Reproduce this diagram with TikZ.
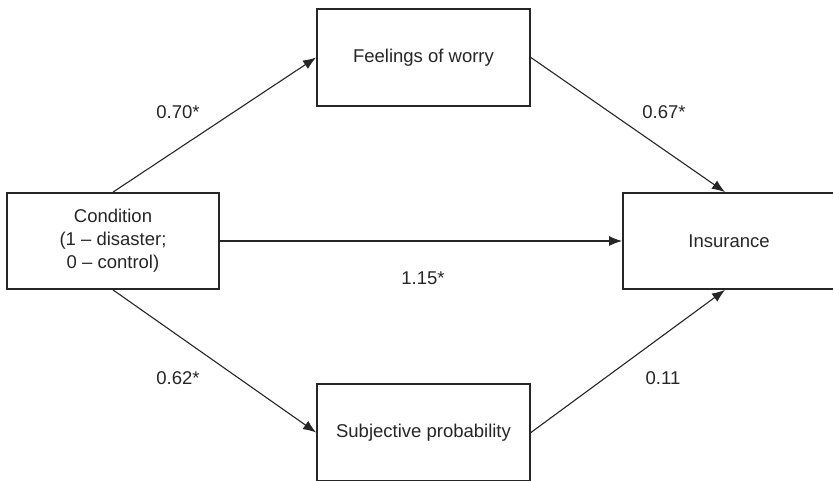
\documentclass[tikz,border=0pt]{standalone}
\usepackage{fontspec}
\setmainfont{Liberation Sans}
\usetikzlibrary{arrows.meta,calc}
\begin{document}
\begin{tikzpicture}[x=1pt,y=-1pt,
  box/.style={draw=black!85,line width=1.8pt,rectangle,minimum width=212pt,minimum height=96pt,inner sep=0pt,align=center,font=\fontsize{18.5}{23}\selectfont,text=black!85},
  path/.style={draw=black!85,line width=1.1pt,-{Latex[length=13pt,width=10pt]}},
  lab/.style={font=\fontsize{18.5}{23}\selectfont,text=black!85,inner sep=0pt}]
\useasboundingbox (0,0) rectangle (833,480);
\fill[white] (0,0) rectangle (833,480);
\node[box] (cond) at (113,241) {Condition\\(1 -- disaster;\\0 -- control)};
\node[box,minimum width=213pt,minimum height=97pt] (worry) at (423.5,57.5) {Feelings of worry};
\node[box,draw=none,minimum width=212pt] (ins) at (729,241) {Insurance};
\draw[draw=black!85,line width=1.8pt] (850,193) -- (623,193) -- (623,289) -- (850,289);
\begin{scope}
\clip (0,0) rectangle (833,480);
\node[box,minimum width=213pt,minimum height=97pt] (subj) at (423.5,432.5) {Subjective probability};
\end{scope}
\coordinate (insT) at ($(ins.north)+(-4,0)$);
\coordinate (insB) at ($(ins.south)+(-4,0)$);
\draw[path] (cond.north) -- (worry.west);
\draw[path] (worry.east) -- (insT);
\draw[path] (cond.east) -- (ins.west);
\draw[path] (cond.south) -- (subj.west);
\draw[path] (subj.east) -- (insB);
\node[lab] (l1) at (178,112) {0.70*};
\node[lab] (l2) at (664,112) {0.67*};
\node[lab] (l3) at (423,278) {1.15*};
\node[lab] (l4) at (178,378) {0.62*};
\node[lab] (l5) at (663,378) {0.11};
\end{tikzpicture}
\end{document}
